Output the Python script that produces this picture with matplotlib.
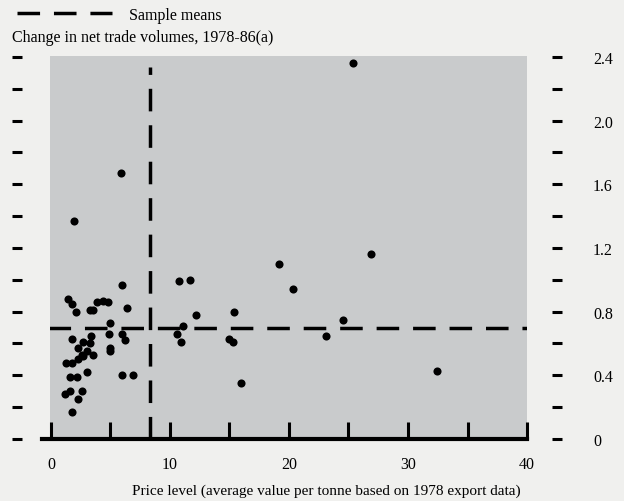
import matplotlib
matplotlib.use('Agg')
import matplotlib.pyplot as plt
from matplotlib.lines import Line2D

# price level (x) and change in net trade volumes (y)
price = [25.4, 5.9, 1.9, 26.9, 19.2, 20.3, 10.8, 11.7, 6.0, 12.2,
         15.4, 6.4, 16.0, 24.5, 23.1, 32.4, 15.0, 15.3, 11.1, 10.6,
         10.9, 1.4, 1.8, 2.1, 3.3, 3.5, 3.9, 4.4, 4.8, 5.0,
         1.8, 3.4, 4.9, 6.0, 6.2, 2.7, 3.3, 2.3, 3.0, 2.6,
         3.5, 5.0, 5.0, 2.7, 1.3, 1.8, 2.3, 3.0, 1.6, 2.2,
         6.0, 6.9, 1.2, 1.6, 2.6, 2.3, 1.8]
change = [2.36, 1.67, 1.37, 1.16, 1.10, 0.94, 0.99, 1.00, 0.97, 0.78,
          0.80, 0.82, 0.35, 0.75, 0.65, 0.43, 0.63, 0.61, 0.71, 0.66,
          0.61, 0.88, 0.85, 0.80, 0.81, 0.81, 0.86, 0.87, 0.86, 0.73,
          0.63, 0.65, 0.66, 0.66, 0.62, 0.61, 0.60, 0.57, 0.55, 0.53,
          0.53, 0.57, 0.55, 0.52, 0.48, 0.48, 0.50, 0.42, 0.39, 0.39,
          0.40, 0.40, 0.28, 0.30, 0.30, 0.25, 0.17]

mean_price = 8.3
mean_change = 0.70

x_major = [0, 10, 20, 30, 40]
x_minor = [5, 15, 25, 35]
y_major = [0, 0.4, 0.8, 1.2, 1.6, 2.0, 2.4]
y_labels = ['0', '0.4', '0.8', '1.2', '1.6', '2.0', '2.4']
y_minor = [0.2, 0.6, 1.0, 1.4, 1.8, 2.2]

plt.rcParams['font.family'] = ['Liberation Serif', 'DejaVu Serif']
fs = 11.5

fig = plt.figure(figsize=(6.24, 5.02), dpi=100, facecolor='#f0f0ee')
ax = fig.add_axes([0.0801, 0.1235, 0.7645, 0.763])
ax.set_facecolor('#c9cbcc')

dash = (6.5, 4)
ax.axhline(mean_change, color='black', lw=2.5, dashes=dash, xmin=-0.005)
ax.axvline(mean_price, color='black', lw=2.5, dashes=dash, ymax=0.97)
ax.scatter(price, change, s=34, color='black', zorder=3, linewidths=0)

ax.set_xlim(-0.08, 40)
ax.set_ylim(0, 2.406)

# thick base line
ax.axhline(0, xmin=-0.017, xmax=1, color='black', lw=3, clip_on=False, zorder=4)

for s in ['top', 'bottom', 'left', 'right']:
    ax.spines[s].set_visible(False)
# outward offsets are in points
ax.spines['left'].set_position(('outward', 20))
ax.spines['right'].set_position(('outward', 18))

ax.set_xticks(x_major)
ax.set_xticks(x_minor, minor=True)
ax.tick_params(axis='x', which='both', direction='in', length=12, width=2.2,
               pad=12, labelsize=fs)
ax.set_yticks(y_major)
ax.set_yticklabels(y_labels)
ax.set_yticks(y_minor, minor=True)
ax.tick_params(axis='y', which='both', left=True, right=True, labelleft=False,
               labelright=True, direction='out', length=7.5, width=2.2,
               pad=22, labelsize=fs)

ax.set_xlabel('Price level (average value per tonne based on 1978 export data)',
              fontsize=11)
ax.xaxis.set_label_coords(0.579, -0.115)

fig.text(0.019, 0.924, 'Change in net trade volumes, 1978-86(a)',
         fontsize=fs, va='center', ha='left')

handle = Line2D([], [], color='black', lw=2.5, dashes=dash)
fig.legend(handles=[handle], labels=['Sample means'], loc='center left',
           bbox_to_anchor=(0.005, 0.968), frameon=False, handlelength=5.9,
           handletextpad=1.1, fontsize=fs)

fig.savefig('out.png', dpi=100, facecolor=fig.get_facecolor())
